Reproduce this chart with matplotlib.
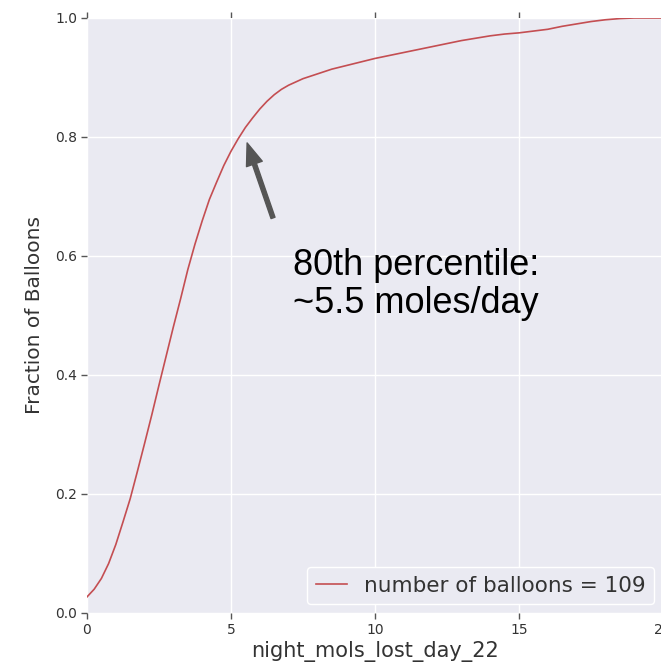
import matplotlib
matplotlib.use('Agg')
import matplotlib.pyplot as plt
import numpy as np

# cumulative fraction of balloons vs night-time moles lost (day 22)
mols_lost = [0.0, 0.25, 0.5, 0.75, 1.0, 1.25, 1.5, 1.75, 2.0, 2.25, 2.5,
             2.75, 3.0, 3.25, 3.5, 3.75, 4.0, 4.25, 4.5, 4.75, 5.0, 5.25,
             5.5, 5.75, 6.0, 6.25, 6.5, 6.75, 7.0, 7.5, 8.0, 8.5, 9.0, 9.5,
             10.0, 11.0, 12.0, 12.5, 13.0, 13.5, 14.0, 14.5, 15.0, 15.5,
             16.0, 16.5, 17.0, 17.5, 18.0, 18.5, 19.0, 20.0]
frac_balloons = [0.027, 0.040, 0.058, 0.083, 0.115, 0.153, 0.192, 0.238,
                 0.285, 0.333, 0.383, 0.432, 0.481, 0.528, 0.577, 0.620,
                 0.659, 0.695, 0.724, 0.752, 0.776, 0.797, 0.816, 0.832,
                 0.847, 0.860, 0.871, 0.880, 0.887, 0.898, 0.906, 0.914,
                 0.920, 0.926, 0.932, 0.942, 0.952, 0.957, 0.962, 0.966,
                 0.970, 0.973, 0.975, 0.978, 0.981, 0.986, 0.990, 0.994,
                 0.997, 0.999, 1.000, 1.000]
n_balloons = 109

x_ticks = [0, 5, 10, 15, 20]
y_ticks = [0.0, 0.2, 0.4, 0.6, 0.8, 1.0]

plt.rcParams['font.family'] = ['DejaVu Sans']

fig = plt.figure(figsize=(6.61, 6.66), dpi=100)
ax = fig.add_axes([0.1316, 0.0796, 0.8714, 0.8934])
ax.set_facecolor('#EAEAF2')
for s in ax.spines.values():
    s.set_visible(False)
ax.grid(True, color='white', linewidth=1.0)
ax.set_axisbelow(True)

ax.plot(mols_lost, frac_balloons, color='#C44E52', linewidth=1.2,
        label=f'number of balloons = {n_balloons}')

ax.set_xlim(0, 20)
ax.set_ylim(0, 1.0)
ax.set_xticks(x_ticks)
ax.set_yticks(y_ticks)
ax.tick_params(axis='both', which='major', direction='out', length=4, width=1,
               color='#555555', labelcolor='#333333', labelsize=10,
               top=True, right=True, pad=3)
ax.set_xlabel('night_mols_lost_day_22', fontsize=15, color='#333333', labelpad=3)
ax.set_ylabel('Fraction of Balloons', fontsize=14.5, color='#333333', labelpad=8)

# arrow pointing at the 80th percentile
ax.annotate('', xy=(5.56, 0.79), xytext=(6.46, 0.664),
            arrowprops=dict(facecolor='#555555', edgecolor='#555555',
                            width=3, headwidth=12, headlength=16, shrink=0))
ax.text(7.15, 0.504, '80th percentile:\n~5.5 moles/day', fontsize=26,
        family='Liberation Sans', color='black', va='baseline', ha='left',
        linespacing=1.1)

leg = ax.legend(loc='lower right', fontsize=15.5, frameon=True,
                facecolor='#EAEAF2', edgecolor='white', framealpha=1.0,
                handlelength=1.45, borderaxespad=0.4)
for t in leg.get_texts():
    t.set_color('#333333')

fig.savefig('out.png', dpi=100)
